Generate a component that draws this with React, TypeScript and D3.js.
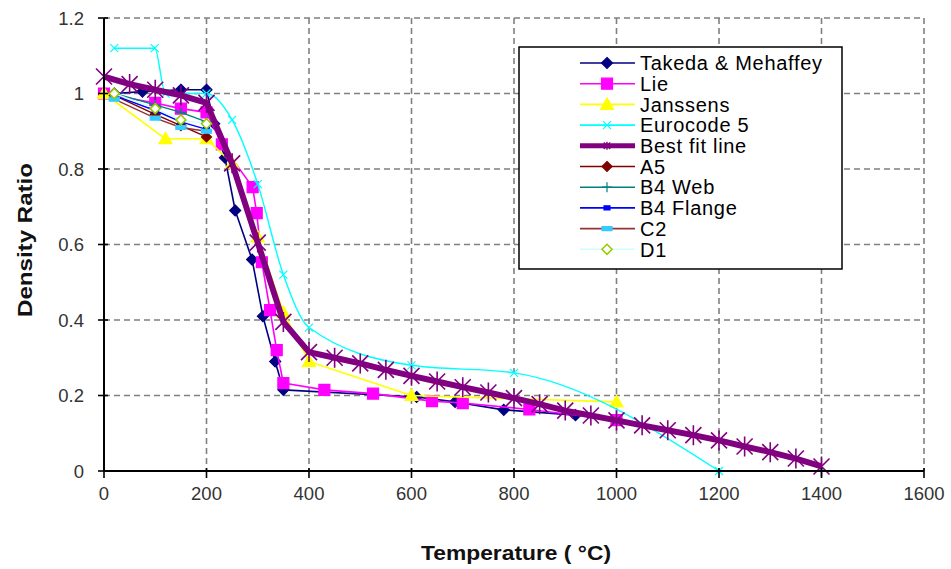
import React from "react";
import * as d3 from "d3";

const W = 951;
const H = 569;

const X_TICKS = [0, 200, 400, 600, 800, 1000, 1200, 1400, 1600];
const Y_TICKS = [0, 0.2, 0.4, 0.6, 0.8, 1, 1.2];

const takedaT = [20, 75, 150, 200, 215, 236, 256, 289, 310, 334, 350, 610, 685, 780, 920];
const takedaD = [1.0, 1.005, 1.01, 1.01, 0.92, 0.83, 0.69, 0.56, 0.41, 0.29, 0.215, 0.196, 0.183, 0.162, 0.148];

const lieT = [0, 100, 150, 200, 230, 290, 298, 308, 324, 337, 350, 430, 525, 640, 700, 830, 1000];
const lieD = [1.0, 0.975, 0.96, 0.95, 0.865, 0.752, 0.683, 0.553, 0.426, 0.32, 0.233, 0.215, 0.205, 0.185, 0.18, 0.163, 0.135];

const janssensT = [0, 120, 200, 250, 300, 350, 400, 600, 1000];
const janssensD = [1.0, 0.88, 0.88, 0.815, 0.62, 0.42, 0.29, 0.2, 0.183];

const eurocodeT = [20, 99, 120, 200, 250, 300, 350, 400, 600, 800, 1200];
const eurocodeD = [1.12, 1.12, 1.0, 1.0, 0.93, 0.76, 0.52, 0.38, 0.28, 0.26, 0];

const bestFitT = [0, 50, 100, 150, 200, 250, 300, 350, 400, 450, 500, 550, 600, 650, 700, 750, 800, 850, 900, 950, 1000, 1050, 1100, 1150, 1200, 1250, 1300, 1350, 1400];
const bestFitD = [1.045, 1.025, 1.01, 0.995, 0.975, 0.815, 0.605, 0.395, 0.315, 0.3, 0.285, 0.268, 0.252, 0.237, 0.222, 0.208, 0.193, 0.177, 0.16, 0.147, 0.134, 0.121, 0.108, 0.095, 0.081, 0.065, 0.05, 0.033, 0.012];

const labT = [20, 100, 150, 200];
const a5D = [0.995, 0.945, 0.915, 0.885];
const b4WebD = [1.0, 0.97, 0.95, 0.925];
const b4FlangeD = [0.995, 0.955, 0.925, 0.905];
const c2D = [0.985, 0.935, 0.91, 0.9];
const d1D = [1.0, 0.96, 0.93, 0.92];

type Marker = "diamond" | "square" | "triangle" | "x" | "star" | "plus" | "smallsquare" | "dash" | "hollowdiamond";

interface Series {
  name: string;
  t: number[];
  d: number[];
  color: string;
  width: number;
  marker: Marker;
  mFill: string;
  mStroke: string;
  size: number;
  smooth?: boolean;
}

const SERIES: Series[] = [
  { name: "Takeda & Mehaffey", t: takedaT, d: takedaD, color: "#000080", width: 1.6, marker: "diamond", mFill: "#000080", mStroke: "#000080", size: 5.5 },
  { name: "Lie", t: lieT, d: lieD, color: "#FF00FF", width: 1.6, marker: "square", mFill: "#FF00FF", mStroke: "#FF00FF", size: 5.5 },
  { name: "Janssens", t: janssensT, d: janssensD, color: "#FFFF00", width: 1.6, marker: "triangle", mFill: "#FFFF00", mStroke: "#FFFF00", size: 6.5 },
  { name: "Eurocode 5", t: eurocodeT, d: eurocodeD, color: "#00FFFF", width: 1.4, marker: "x", mFill: "none", mStroke: "#00FFFF", size: 4, smooth: true },
  { name: "Best fit line", t: bestFitT, d: bestFitD, color: "#800080", width: 6, marker: "star", mFill: "none", mStroke: "#800080", size: 10 },
  { name: "A5", t: labT, d: a5D, color: "#800000", width: 1.4, marker: "diamond", mFill: "#800000", mStroke: "#800000", size: 5 },
  { name: "B4 Web", t: labT, d: b4WebD, color: "#008080", width: 1.4, marker: "plus", mFill: "none", mStroke: "#008080", size: 5 },
  { name: "B4 Flange", t: labT, d: b4FlangeD, color: "#0000FF", width: 1.4, marker: "smallsquare", mFill: "#0000FF", mStroke: "#0000FF", size: 3 },
  { name: "C2", t: labT, d: c2D, color: "#993333", width: 1.4, marker: "dash", mFill: "#33CCFF", mStroke: "#33CCFF", size: 5 },
  { name: "D1", t: labT, d: d1D, color: "#CCFFFF", width: 1.4, marker: "hollowdiamond", mFill: "#FFFFFF", mStroke: "#99CC00", size: 5 },
];

function markerPath(m: Marker, r: number): string {
  switch (m) {
    case "diamond":
    case "hollowdiamond":
      return `M0,${-r}L${r},0L0,${r}L${-r},0Z`;
    case "square":
      return `M${-r},${-r}H${r}V${r}H${-r}Z`;
    case "smallsquare":
      return `M${-r},${-r * 0.7}H${r}V${r * 0.7}H${-r}Z`;
    case "dash":
      return `M${-r},${-2}H${r}V${2}H${-r}Z`;
    case "triangle":
      return `M0,${-r}L${r},${r * 0.75}L${-r},${r * 0.75}Z`;
    case "x":
      return `M${-r},${-r}L${r},${r}M${-r},${r}L${r},${-r}`;
    case "star":
      return `M${-r * 0.8},${-r * 0.8}L${r * 0.8},${r * 0.8}M${-r * 0.8},${r * 0.8}L${r * 0.8},${-r * 0.8}M0,${-r}L0,${r}`;
    case "plus":
      return `M${-r},0H${r}M0,${-r}V${r}`;
  }
}

const FONT = "Arial, 'Liberation Sans', Helvetica, sans-serif";

export default function App() {
  const x = d3.scaleLinear().domain([0, 1600]).range([104, 924]);
  const y = d3.scaleLinear().domain([0, 1.2]).range([471, 18]);

  const legendX = 519;
  const legendY = 47;
  const legendW = 323;
  const legendH = 222;
  const rowY = (i: number) => 63 + i * 20.7;

  return (
    <svg width={W} height={H} style={{ position: "absolute", left: 0, top: 0, background: "#fff" }} fontFamily={FONT}>
      <rect x={0} y={0} width={W} height={H} fill="#fff" />
      {/* gridlines */}
      {Y_TICKS.filter((v) => v > 0).map((v) => (
        <line key={"gy" + v} x1={x(0)} x2={x(1600)} y1={y(v)} y2={y(v)} stroke="#808080" strokeWidth={1.6} strokeDasharray="6 4" />
      ))}
      {X_TICKS.filter((v) => v > 0).map((v) => (
        <line key={"gx" + v} x1={x(v)} x2={x(v)} y1={y(1.2)} y2={y(0)} stroke="#808080" strokeWidth={1.6} strokeDasharray="6 4" />
      ))}

      {/* series */}
      {SERIES.map((s) => {
        const pts: [number, number][] = s.t.map((t, i) => [x(t), y(s.d[i])]);
        const gen = d3.line().curve(s.smooth ? d3.curveMonotoneX : d3.curveLinear);
        return (
          <g key={s.name}>
            <path d={gen(pts) || ""} fill="none" stroke={s.color} strokeWidth={s.width} strokeLinejoin="round" />
            {pts.map((p, i) => (
              <path
                key={i}
                transform={`translate(${p[0]},${p[1]})`}
                d={markerPath(s.marker, s.size)}
                fill={s.mFill}
                stroke={s.mStroke}
                strokeWidth={s.marker === "star" ? 1.6 : s.marker === "hollowdiamond" ? 1.6 : 1.2}
              />
            ))}
          </g>
        );
      })}

      {/* axes */}
      <line x1={x(0)} x2={x(0)} y1={y(1.2)} y2={y(0)} stroke="#000" strokeWidth={2} />
      <line x1={x(0)} x2={x(1600)} y1={y(0)} y2={y(0)} stroke="#000" strokeWidth={2} />
      {Y_TICKS.map((v) => (
        <g key={"ty" + v}>
          <line x1={x(0) - 6} x2={x(0) + 4} y1={y(v)} y2={y(v)} stroke="#000" strokeWidth={1.6} />
          <text x={84} y={y(v)} dy="0.36em" textAnchor="end" fontSize={18.5} fill="#333">
            {d3.format("~g")(v)}
          </text>
        </g>
      ))}
      {X_TICKS.map((v) => (
        <g key={"tx" + v}>
          <line x1={x(v)} x2={x(v)} y1={y(0) - 3} y2={y(0) + 7} stroke="#000" strokeWidth={1.6} />
          <text x={x(v)} y={500} textAnchor="middle" fontSize={18.5} fill="#333">
            {v}
          </text>
        </g>
      ))}

      {/* axis titles */}
      <text x={516} y={560} textAnchor="middle" fontSize={20} fontWeight="bold" fill="#111" textLength={190} lengthAdjust="spacingAndGlyphs">
        Temperature ( °C)
      </text>
      <text transform={`translate(32,240) rotate(-90)`} textAnchor="middle" fontSize={20} fontWeight="bold" fill="#111" textLength={154} lengthAdjust="spacingAndGlyphs">
        Density Ratio
      </text>

      {/* legend */}
      <rect x={legendX} y={legendY} width={legendW} height={legendH} fill="#fff" stroke="#000" strokeWidth={1.5} />
      {SERIES.map((s, i) => {
        const yy = rowY(i);
        return (
          <g key={"lg" + s.name}>
            <line x1={580} x2={635} y1={yy} y2={yy} stroke={s.color} strokeWidth={s.marker === "star" ? 5 : 1.6} />
            {s.marker !== "star" && (
              <path
                transform={`translate(607,${yy})`}
                d={markerPath(s.marker, s.size)}
                fill={s.mFill}
                stroke={s.mStroke}
                strokeWidth={s.marker === "hollowdiamond" ? 1.6 : 1.2}
              />
            )}
            {s.marker === "star" && (
              <path transform={`translate(607,${yy})`} d={markerPath("star", 4)} fill="none" stroke={s.color} strokeWidth={1.4} />
            )}
            <text x={640} y={yy} dy="0.36em" fontSize={20} letterSpacing={0.7} fill="#000">
              {s.name}
            </text>
          </g>
        );
      })}
    </svg>
  );
}
